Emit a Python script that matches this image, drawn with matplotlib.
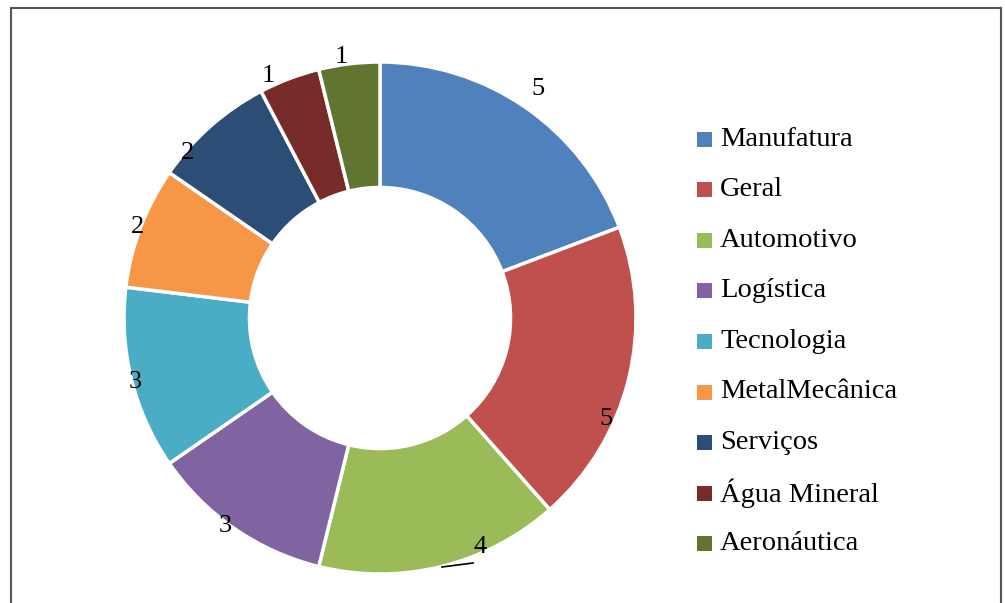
import matplotlib
matplotlib.use("Agg")
import matplotlib.pyplot as plt
from matplotlib.patches import Rectangle

categories = ["Manufatura", "Geral", "Automotivo", "Logística", "Tecnologia",
              "MetalMecânica", "Serviços", "Água Mineral", "Aeronáutica"]
values = [5, 5, 4, 3, 3, 2, 2, 1, 1]
colors = ["#4F81BD", "#C0504D", "#9BBB59", "#8064A2", "#4BACC6",
          "#F79646", "#2C4D75", "#772C2A", "#5F7530"]

# label positions (pixel coords, origin top-left)
label_px = [(538, 89), (606, 419), (480, 547), (225, 526), (135, 382),
            (137, 227), (188, 153), (268, 76), (341, 57)]

W, H = 1005, 603
plt.rcParams['font.family'] = ['Liberation Serif', 'DejaVu Serif']
fig = plt.figure(figsize=(W / 100, H / 100), dpi=100)
ax = fig.add_axes([0, 0, 1, 1])
ax.set_xlim(0, W)
ax.set_ylim(0, H)
ax.axis('off')

cx, cy, R = 380, H - 318, 256
ax.pie(values, colors=colors, startangle=90, counterclock=False,
       radius=R, center=(cx, cy),
       wedgeprops=dict(width=R * 0.49, edgecolor='white', linewidth=2.5))
ax.set_xlim(0, W)
ax.set_ylim(0, H)
ax.set_aspect('auto')

for v, (px, py) in zip(values, label_px):
    ax.text(px, H - py, str(v), ha='center', va='center', fontsize=19, color='black')

# leader line for "4"
ax.plot([442, 473], [H - 567, H - 563], color='black', lw=1.2)

# frame
ax.add_patch(Rectangle((11, -5), 990, H - 8 + 5, fill=False, edgecolor='#555555', lw=1.5))

# legend
y0, dy = 139, 50.6
for i, (name, c) in enumerate(zip(categories, colors)):
    y = y0 + i * dy
    ax.add_patch(Rectangle((697, H - y - 7.5), 15, 15, facecolor=c, edgecolor='none'))
    ax.text(720, H - y, name, ha='left', va='center', fontsize=20.5, color='black')

fig.savefig("out.png", dpi=100)
